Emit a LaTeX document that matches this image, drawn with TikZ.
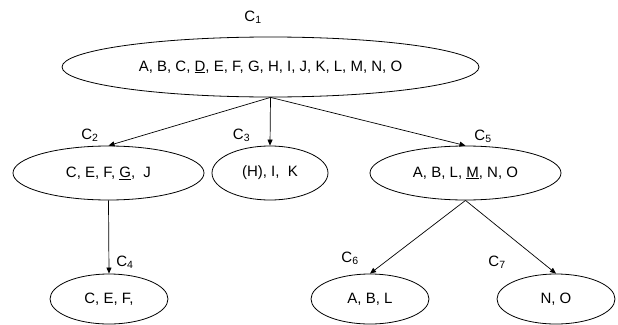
\documentclass[tikz,border=0pt]{standalone}
\usepackage{fontspec}
\setmainfont{Liberation Sans}
\usetikzlibrary{shapes.geometric,arrows.meta}
\tikzset{
  cl/.style={ellipse,draw,line width=0.8pt,inner sep=0pt,font=\fontsize{15}{18}\selectfont},
  lab/.style={inner sep=0pt,font=\fontsize{15}{18}\selectfont},
  arr/.style={line width=0.7pt,-{Triangle[length=6pt,width=5pt]}}
}
\begin{document}
\begin{tikzpicture}[x=1pt,y=-1pt]
\useasboundingbox (0,0) rectangle (618,324);
\node[cl,minimum width=417pt,minimum height=60pt] (c1) at (270.5,67) {A, B, C, \underline{D}, E, F, G, H, I, J, K, L, M, N, O};
\node[cl,minimum width=191pt,minimum height=54pt] (c2) at (108.5,173) {C, E, F, \underline{G}, \ J};
\node[cl,minimum width=116pt,minimum height=54pt] (c3) at (270,173) {(H), I, \ K};
\node[cl,minimum width=191pt,minimum height=54pt] (c5) at (465.5,173) {A, B, L, \underline{M}, N, O};
\node[cl,minimum width=118pt,minimum height=50pt] (c4) at (109,299) {C, E, F,};
\node[cl,minimum width=118pt,minimum height=50pt] (c6) at (370,299) {A, B, L};
\node[cl,minimum width=118pt,minimum height=50pt] (c7) at (556,299) {N, O};
\node[lab] (l1) at (253,17) {C\textsubscript{1}};
\node[lab] (l2) at (90,135) {C\textsubscript{2}};
\node[lab] (l3) at (241.5,135) {C\textsubscript{3}};
\node[lab] (l5) at (483,136) {C\textsubscript{5}};
\node[lab] (l4) at (125,262) {C\textsubscript{4}};
\node[lab] (l6) at (350,258) {C\textsubscript{6}};
\node[lab] (l7) at (497,262) {C\textsubscript{7}};
\draw[arr] (c1.south) -- (c2.north);
\draw[arr] (c1.south) -- (c3.north);
\draw[arr] (c1.south) -- (c5.north);
\draw[arr] (c2.south) -- (c4.north);
\draw[arr] (c5.south) -- (c6.north);
\draw[arr] (c5.south) -- (c7.north);
\end{tikzpicture}
\end{document}
